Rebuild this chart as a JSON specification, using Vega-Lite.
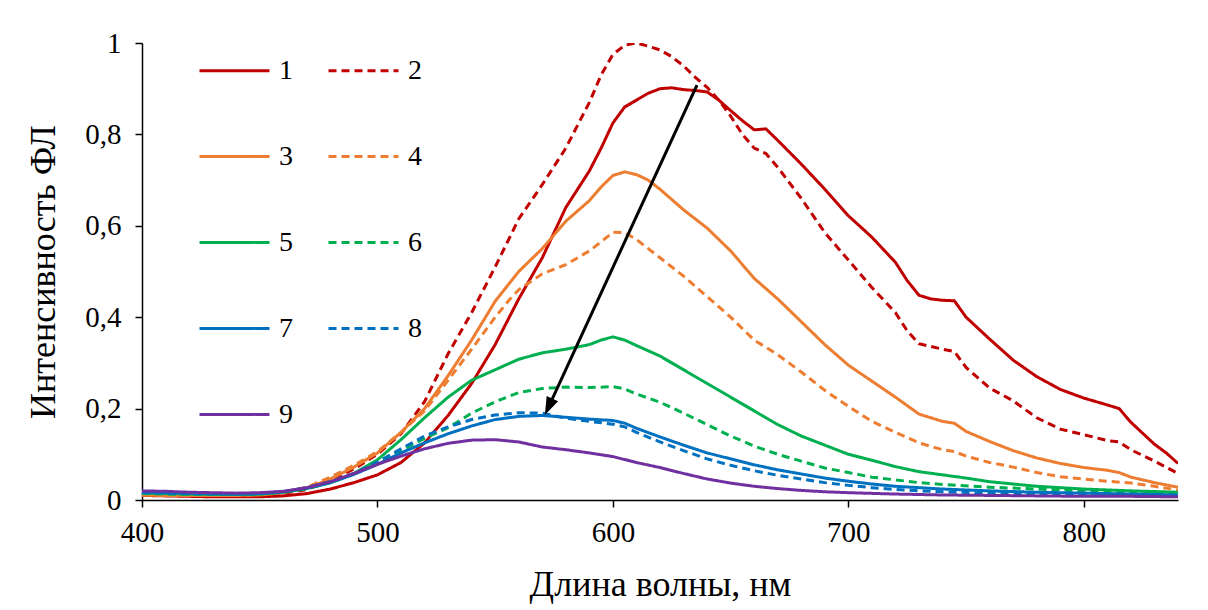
{
  "$schema": "https://vega.github.io/schema/vega-lite/v6.json",
  "width": 1036,
  "height": 457,
  "autosize": {"type": "none"},
  "padding": {"left": 142, "top": 43, "right": 30, "bottom": 110},
  "background": "white",
  "config": {
    "view": {"stroke": null},
    "font": "Times New Roman, Liberation Serif, serif",
    "axis": {
      "grid": false,
      "domainColor": "#000000",
      "domainWidth": 1.5,
      "tickColor": "#000000",
      "tickWidth": 1.5,
      "tickSize": 7,
      "labelFont": "Times New Roman, Liberation Serif, serif",
      "labelFontSize": 29,
      "labelColor": "#000000",
      "titleFont": "Times New Roman, Liberation Serif, serif",
      "titleFontSize": 36,
      "titleFontWeight": "normal",
      "titleColor": "#000000"
    }
  },
  "layer": [
    {
      "data": {"values": [
        {"x":400,"s":"1","y":0.010},{"x":410,"s":"1","y":0.009},{"x":420,"s":"1","y":0.008},{"x":430,"s":"1","y":0.007},{"x":440,"s":"1","y":0.007},{"x":450,"s":"1","y":0.007},{"x":460,"s":"1","y":0.009},{"x":470,"s":"1","y":0.014},{"x":480,"s":"1","y":0.024},{"x":490,"s":"1","y":0.038},{"x":500,"s":"1","y":0.055},{"x":510,"s":"1","y":0.082},{"x":520,"s":"1","y":0.125},{"x":530,"s":"1","y":0.185},{"x":540,"s":"1","y":0.255},{"x":550,"s":"1","y":0.34},{"x":560,"s":"1","y":0.44},{"x":570,"s":"1","y":0.53},{"x":580,"s":"1","y":0.64},{"x":590,"s":"1","y":0.72},{"x":595,"s":"1","y":0.77},{"x":600,"s":"1","y":0.825},{"x":605,"s":"1","y":0.86},{"x":610,"s":"1","y":0.875},{"x":615,"s":"1","y":0.89},{"x":620,"s":"1","y":0.9},{"x":625,"s":"1","y":0.902},{"x":630,"s":"1","y":0.898},{"x":635,"s":"1","y":0.896},{"x":640,"s":"1","y":0.893},{"x":645,"s":"1","y":0.875},{"x":650,"s":"1","y":0.852},{"x":655,"s":"1","y":0.83},{"x":660,"s":"1","y":0.81},{"x":665,"s":"1","y":0.812},{"x":670,"s":"1","y":0.787},{"x":680,"s":"1","y":0.735},{"x":690,"s":"1","y":0.68},{"x":700,"s":"1","y":0.622},{"x":710,"s":"1","y":0.575},{"x":720,"s":"1","y":0.52},{"x":725,"s":"1","y":0.48},{"x":730,"s":"1","y":0.448},{"x":735,"s":"1","y":0.44},{"x":740,"s":"1","y":0.437},{"x":745,"s":"1","y":0.436},{"x":750,"s":"1","y":0.4},{"x":760,"s":"1","y":0.352},{"x":770,"s":"1","y":0.306},{"x":780,"s":"1","y":0.27},{"x":790,"s":"1","y":0.242},{"x":800,"s":"1","y":0.223},{"x":810,"s":"1","y":0.208},{"x":815,"s":"1","y":0.2},{"x":820,"s":"1","y":0.17},{"x":830,"s":"1","y":0.122},{"x":835,"s":"1","y":0.103},{"x":840,"s":"1","y":0.08},

        {"x":400,"s":"2","y":0.012},{"x":410,"s":"2","y":0.011},{"x":420,"s":"2","y":0.010},{"x":430,"s":"2","y":0.010},{"x":440,"s":"2","y":0.010},{"x":450,"s":"2","y":0.011},{"x":460,"s":"2","y":0.015},{"x":470,"s":"2","y":0.023},{"x":480,"s":"2","y":0.042},{"x":490,"s":"2","y":0.068},{"x":500,"s":"2","y":0.1},{"x":510,"s":"2","y":0.145},{"x":520,"s":"2","y":0.215},{"x":530,"s":"2","y":0.32},{"x":540,"s":"2","y":0.41},{"x":550,"s":"2","y":0.51},{"x":560,"s":"2","y":0.615},{"x":570,"s":"2","y":0.69},{"x":580,"s":"2","y":0.77},{"x":590,"s":"2","y":0.87},{"x":595,"s":"2","y":0.93},{"x":600,"s":"2","y":0.975},{"x":605,"s":"2","y":0.995},{"x":610,"s":"2","y":1.0},{"x":615,"s":"2","y":0.993},{"x":620,"s":"2","y":0.985},{"x":625,"s":"2","y":0.97},{"x":630,"s":"2","y":0.95},{"x":635,"s":"2","y":0.925},{"x":640,"s":"2","y":0.903},{"x":645,"s":"2","y":0.875},{"x":650,"s":"2","y":0.84},{"x":655,"s":"2","y":0.8},{"x":660,"s":"2","y":0.77},{"x":665,"s":"2","y":0.758},{"x":670,"s":"2","y":0.728},{"x":680,"s":"2","y":0.66},{"x":690,"s":"2","y":0.585},{"x":700,"s":"2","y":0.525},{"x":710,"s":"2","y":0.465},{"x":720,"s":"2","y":0.41},{"x":725,"s":"2","y":0.37},{"x":730,"s":"2","y":0.342},{"x":740,"s":"2","y":0.33},{"x":745,"s":"2","y":0.325},{"x":750,"s":"2","y":0.29},{"x":760,"s":"2","y":0.245},{"x":770,"s":"2","y":0.217},{"x":780,"s":"2","y":0.18},{"x":790,"s":"2","y":0.155},{"x":800,"s":"2","y":0.143},{"x":810,"s":"2","y":0.13},{"x":815,"s":"2","y":0.127},{"x":820,"s":"2","y":0.11},{"x":830,"s":"2","y":0.085},{"x":840,"s":"2","y":0.058},

        {"x":400,"s":"3","y":0.011},{"x":410,"s":"3","y":0.010},{"x":420,"s":"3","y":0.010},{"x":430,"s":"3","y":0.010},{"x":440,"s":"3","y":0.010},{"x":450,"s":"3","y":0.011},{"x":460,"s":"3","y":0.016},{"x":470,"s":"3","y":0.026},{"x":480,"s":"3","y":0.046},{"x":490,"s":"3","y":0.072},{"x":500,"s":"3","y":0.103},{"x":510,"s":"3","y":0.148},{"x":520,"s":"3","y":0.2},{"x":530,"s":"3","y":0.272},{"x":540,"s":"3","y":0.35},{"x":550,"s":"3","y":0.435},{"x":560,"s":"3","y":0.5},{"x":570,"s":"3","y":0.55},{"x":580,"s":"3","y":0.61},{"x":590,"s":"3","y":0.655},{"x":595,"s":"3","y":0.685},{"x":600,"s":"3","y":0.71},{"x":605,"s":"3","y":0.718},{"x":610,"s":"3","y":0.712},{"x":615,"s":"3","y":0.7},{"x":620,"s":"3","y":0.68},{"x":630,"s":"3","y":0.635},{"x":640,"s":"3","y":0.595},{"x":650,"s":"3","y":0.545},{"x":660,"s":"3","y":0.485},{"x":670,"s":"3","y":0.44},{"x":680,"s":"3","y":0.39},{"x":690,"s":"3","y":0.34},{"x":700,"s":"3","y":0.295},{"x":710,"s":"3","y":0.26},{"x":720,"s":"3","y":0.225},{"x":730,"s":"3","y":0.188},{"x":740,"s":"3","y":0.172},{"x":745,"s":"3","y":0.168},{"x":750,"s":"3","y":0.15},{"x":760,"s":"3","y":0.128},{"x":770,"s":"3","y":0.108},{"x":780,"s":"3","y":0.092},{"x":790,"s":"3","y":0.08},{"x":800,"s":"3","y":0.071},{"x":810,"s":"3","y":0.065},{"x":815,"s":"3","y":0.06},{"x":820,"s":"3","y":0.05},{"x":830,"s":"3","y":0.038},{"x":840,"s":"3","y":0.028},

        {"x":400,"s":"4","y":0.011},{"x":410,"s":"4","y":0.010},{"x":420,"s":"4","y":0.010},{"x":430,"s":"4","y":0.010},{"x":440,"s":"4","y":0.010},{"x":450,"s":"4","y":0.012},{"x":460,"s":"4","y":0.017},{"x":470,"s":"4","y":0.028},{"x":480,"s":"4","y":0.05},{"x":490,"s":"4","y":0.076},{"x":500,"s":"4","y":0.106},{"x":510,"s":"4","y":0.148},{"x":520,"s":"4","y":0.195},{"x":530,"s":"4","y":0.262},{"x":540,"s":"4","y":0.33},{"x":550,"s":"4","y":0.4},{"x":556,"s":"4","y":0.438},{"x":560,"s":"4","y":0.46},{"x":570,"s":"4","y":0.495},{"x":580,"s":"4","y":0.515},{"x":590,"s":"4","y":0.545},{"x":595,"s":"4","y":0.565},{"x":600,"s":"4","y":0.586},{"x":605,"s":"4","y":0.585},{"x":610,"s":"4","y":0.57},{"x":620,"s":"4","y":0.53},{"x":630,"s":"4","y":0.49},{"x":640,"s":"4","y":0.445},{"x":650,"s":"4","y":0.4},{"x":660,"s":"4","y":0.35},{"x":670,"s":"4","y":0.318},{"x":680,"s":"4","y":0.28},{"x":690,"s":"4","y":0.24},{"x":700,"s":"4","y":0.205},{"x":710,"s":"4","y":0.172},{"x":720,"s":"4","y":0.148},{"x":730,"s":"4","y":0.125},{"x":740,"s":"4","y":0.11},{"x":745,"s":"4","y":0.106},{"x":750,"s":"4","y":0.096},{"x":760,"s":"4","y":0.082},{"x":770,"s":"4","y":0.072},{"x":780,"s":"4","y":0.06},{"x":790,"s":"4","y":0.051},{"x":800,"s":"4","y":0.046},{"x":810,"s":"4","y":0.041},{"x":820,"s":"4","y":0.037},{"x":830,"s":"4","y":0.03},{"x":840,"s":"4","y":0.022},

        {"x":400,"s":"5","y":0.015},{"x":410,"s":"5","y":0.014},{"x":420,"s":"5","y":0.013},{"x":430,"s":"5","y":0.012},{"x":440,"s":"5","y":0.012},{"x":450,"s":"5","y":0.013},{"x":460,"s":"5","y":0.017},{"x":470,"s":"5","y":0.025},{"x":480,"s":"5","y":0.038},{"x":490,"s":"5","y":0.058},{"x":500,"s":"5","y":0.088},{"x":510,"s":"5","y":0.132},{"x":520,"s":"5","y":0.18},{"x":530,"s":"5","y":0.225},{"x":540,"s":"5","y":0.262},{"x":550,"s":"5","y":0.285},{"x":560,"s":"5","y":0.308},{"x":570,"s":"5","y":0.322},{"x":580,"s":"5","y":0.33},{"x":590,"s":"5","y":0.34},{"x":595,"s":"5","y":0.35},{"x":600,"s":"5","y":0.357},{"x":605,"s":"5","y":0.35},{"x":610,"s":"5","y":0.338},{"x":620,"s":"5","y":0.315},{"x":630,"s":"5","y":0.285},{"x":640,"s":"5","y":0.255},{"x":650,"s":"5","y":0.225},{"x":660,"s":"5","y":0.195},{"x":670,"s":"5","y":0.165},{"x":680,"s":"5","y":0.14},{"x":690,"s":"5","y":0.12},{"x":700,"s":"5","y":0.1},{"x":710,"s":"5","y":0.087},{"x":720,"s":"5","y":0.073},{"x":730,"s":"5","y":0.062},{"x":740,"s":"5","y":0.055},{"x":750,"s":"5","y":0.048},{"x":760,"s":"5","y":0.04},{"x":770,"s":"5","y":0.035},{"x":780,"s":"5","y":0.03},{"x":790,"s":"5","y":0.027},{"x":800,"s":"5","y":0.024},{"x":820,"s":"5","y":0.02},{"x":840,"s":"5","y":0.017},

        {"x":400,"s":"6","y":0.014},{"x":410,"s":"6","y":0.013},{"x":420,"s":"6","y":0.012},{"x":430,"s":"6","y":0.012},{"x":440,"s":"6","y":0.012},{"x":450,"s":"6","y":0.013},{"x":460,"s":"6","y":0.017},{"x":470,"s":"6","y":0.025},{"x":480,"s":"6","y":0.038},{"x":490,"s":"6","y":0.057},{"x":500,"s":"6","y":0.083},{"x":510,"s":"6","y":0.108},{"x":520,"s":"6","y":0.135},{"x":530,"s":"6","y":0.158},{"x":540,"s":"6","y":0.19},{"x":550,"s":"6","y":0.215},{"x":560,"s":"6","y":0.235},{"x":570,"s":"6","y":0.244},{"x":580,"s":"6","y":0.247},{"x":590,"s":"6","y":0.246},{"x":600,"s":"6","y":0.248},{"x":605,"s":"6","y":0.243},{"x":610,"s":"6","y":0.232},{"x":620,"s":"6","y":0.214},{"x":630,"s":"6","y":0.19},{"x":640,"s":"6","y":0.165},{"x":650,"s":"6","y":0.14},{"x":660,"s":"6","y":0.118},{"x":670,"s":"6","y":0.1},{"x":680,"s":"6","y":0.085},{"x":690,"s":"6","y":0.07},{"x":700,"s":"6","y":0.06},{"x":710,"s":"6","y":0.05},{"x":720,"s":"6","y":0.044},{"x":730,"s":"6","y":0.038},{"x":740,"s":"6","y":0.034},{"x":760,"s":"6","y":0.028},{"x":780,"s":"6","y":0.024},{"x":800,"s":"6","y":0.02},{"x":820,"s":"6","y":0.017},{"x":840,"s":"6","y":0.014},

        {"x":400,"s":"7","y":0.017},{"x":410,"s":"7","y":0.016},{"x":420,"s":"7","y":0.015},{"x":430,"s":"7","y":0.014},{"x":440,"s":"7","y":0.013},{"x":450,"s":"7","y":0.014},{"x":460,"s":"7","y":0.018},{"x":470,"s":"7","y":0.026},{"x":480,"s":"7","y":0.038},{"x":490,"s":"7","y":0.056},{"x":500,"s":"7","y":0.078},{"x":510,"s":"7","y":0.103},{"x":520,"s":"7","y":0.125},{"x":530,"s":"7","y":0.145},{"x":540,"s":"7","y":0.162},{"x":550,"s":"7","y":0.176},{"x":560,"s":"7","y":0.183},{"x":570,"s":"7","y":0.185},{"x":580,"s":"7","y":0.181},{"x":590,"s":"7","y":0.177},{"x":600,"s":"7","y":0.174},{"x":605,"s":"7","y":0.168},{"x":610,"s":"7","y":0.157},{"x":620,"s":"7","y":0.138},{"x":630,"s":"7","y":0.12},{"x":640,"s":"7","y":0.103},{"x":650,"s":"7","y":0.09},{"x":660,"s":"7","y":0.077},{"x":670,"s":"7","y":0.066},{"x":680,"s":"7","y":0.057},{"x":690,"s":"7","y":0.048},{"x":700,"s":"7","y":0.041},{"x":710,"s":"7","y":0.035},{"x":720,"s":"7","y":0.03},{"x":730,"s":"7","y":0.027},{"x":740,"s":"7","y":0.024},{"x":760,"s":"7","y":0.02},{"x":780,"s":"7","y":0.017},{"x":800,"s":"7","y":0.015},{"x":820,"s":"7","y":0.013},{"x":840,"s":"7","y":0.011},

        {"x":400,"s":"8","y":0.016},{"x":410,"s":"8","y":0.015},{"x":420,"s":"8","y":0.014},{"x":430,"s":"8","y":0.013},{"x":440,"s":"8","y":0.013},{"x":450,"s":"8","y":0.014},{"x":460,"s":"8","y":0.018},{"x":470,"s":"8","y":0.027},{"x":480,"s":"8","y":0.04},{"x":490,"s":"8","y":0.058},{"x":500,"s":"8","y":0.083},{"x":510,"s":"8","y":0.112},{"x":520,"s":"8","y":0.14},{"x":530,"s":"8","y":0.16},{"x":540,"s":"8","y":0.176},{"x":550,"s":"8","y":0.186},{"x":560,"s":"8","y":0.191},{"x":570,"s":"8","y":0.19},{"x":580,"s":"8","y":0.179},{"x":590,"s":"8","y":0.172},{"x":600,"s":"8","y":0.166},{"x":605,"s":"8","y":0.16},{"x":610,"s":"8","y":0.148},{"x":620,"s":"8","y":0.127},{"x":630,"s":"8","y":0.108},{"x":640,"s":"8","y":0.09},{"x":650,"s":"8","y":0.076},{"x":660,"s":"8","y":0.064},{"x":670,"s":"8","y":0.054},{"x":680,"s":"8","y":0.046},{"x":690,"s":"8","y":0.038},{"x":700,"s":"8","y":0.032},{"x":710,"s":"8","y":0.027},{"x":720,"s":"8","y":0.023},{"x":730,"s":"8","y":0.02},{"x":740,"s":"8","y":0.018},{"x":760,"s":"8","y":0.015},{"x":780,"s":"8","y":0.013},{"x":800,"s":"8","y":0.012},{"x":820,"s":"8","y":0.011},{"x":840,"s":"8","y":0.01},

        {"x":400,"s":"9","y":0.02},{"x":410,"s":"9","y":0.019},{"x":420,"s":"9","y":0.017},{"x":430,"s":"9","y":0.016},{"x":440,"s":"9","y":0.015},{"x":450,"s":"9","y":0.016},{"x":460,"s":"9","y":0.019},{"x":470,"s":"9","y":0.027},{"x":480,"s":"9","y":0.04},{"x":490,"s":"9","y":0.058},{"x":500,"s":"9","y":0.078},{"x":510,"s":"9","y":0.096},{"x":520,"s":"9","y":0.112},{"x":530,"s":"9","y":0.124},{"x":540,"s":"9","y":0.131},{"x":550,"s":"9","y":0.132},{"x":560,"s":"9","y":0.127},{"x":570,"s":"9","y":0.116},{"x":580,"s":"9","y":0.11},{"x":590,"s":"9","y":0.103},{"x":600,"s":"9","y":0.095},{"x":610,"s":"9","y":0.082},{"x":620,"s":"9","y":0.071},{"x":630,"s":"9","y":0.058},{"x":640,"s":"9","y":0.046},{"x":650,"s":"9","y":0.037},{"x":660,"s":"9","y":0.03},{"x":670,"s":"9","y":0.025},{"x":680,"s":"9","y":0.021},{"x":690,"s":"9","y":0.018},{"x":700,"s":"9","y":0.016},{"x":720,"s":"9","y":0.013},{"x":740,"s":"9","y":0.011},{"x":760,"s":"9","y":0.01},{"x":780,"s":"9","y":0.009},{"x":800,"s":"9","y":0.008},{"x":820,"s":"9","y":0.008},{"x":840,"s":"9","y":0.007}
      ]},
      "mark": {"type": "line", "strokeWidth": 3, "clip": true},
      "encoding": {
        "x": {
          "field": "x", "type": "quantitative",
          "scale": {"domain": [400, 840], "nice": false, "zero": false},
          "axis": {"values": [400, 500, 600, 700, 800], "title": "Длина волны, нм", "labelFont": "Times New Roman, Liberation Serif, serif", "labelFontSize": 29, "labelFlush": false, "labelPadding": 11, "titlePadding": 20}
        },
        "y": {
          "field": "y", "type": "quantitative",
          "scale": {"domain": [0, 1], "nice": false},
          "axis": {
            "values": [0, 0.2, 0.4, 0.6, 0.8, 1],
            "title": "Интенсивность ФЛ",
            "labelFont": "Times New Roman, Liberation Serif, serif",
            "labelFontSize": 29,
            "labelFlush": false,
            "labelExpr": "datum.value == 0 || datum.value == 1 ? format(datum.value, 'd') : replace(format(datum.value, '.1f'), '.', ',')",
            "labelPadding": 14,
            "titlePadding": 22
          }
        },
        "color": {
          "field": "s", "type": "nominal",
          "scale": {"domain": ["1","2","3","4","5","6","7","8","9"], "range": ["#C00000","#C00000","#ED7D31","#ED7D31","#00B050","#00B050","#0070C0","#0070C0","#7030A0"]},
          "legend": {
            "title": null,
            "orient": "none",
            "legendX": 56,
            "legendY": -9,
            "columns": 2,
            "direction": "horizontal",
            "symbolType": "stroke",
            "symbolSize": 4900,
            "symbolStrokeWidth": 3,
            "labelFont": "Times New Roman, Liberation Serif, serif",
            "labelFontSize": 28,
            "labelColor": "#000000",
            "labelOffset": 8,
            "rowPadding": 35,
            "columnPadding": 29,
            "padding": 0
          }
        },
        "strokeDash": {
          "field": "s", "type": "nominal",
          "scale": {"domain": ["1","2","3","4","5","6","7","8","9"], "range": [[1,0],[8,5],[1,0],[8,5],[1,0],[8,5],[1,0],[8,5],[1,0]]},
          "legend": null
        }
      }
    },
    {
      "data": {"values": [{"x": 635.7, "y": 0.908, "x2": 572.7, "y2": 0.204}]},
      "mark": {"type": "rule", "color": "#000000", "strokeWidth": 3},
      "encoding": {
        "x": {"field": "x", "type": "quantitative"},
        "y": {"field": "y", "type": "quantitative"},
        "x2": {"field": "x2"},
        "y2": {"field": "y2"}
      }
    },
    {
      "data": {"values": [{"x": 572.7, "y": 0.204}]},
      "mark": {"type": "point", "shape": "M0,-1L-0.7,1L0.7,1Z", "filled": true, "color": "#000000", "opacity": 1, "size": 324, "angle": 204.7},
      "encoding": {
        "x": {"field": "x", "type": "quantitative"},
        "y": {"field": "y", "type": "quantitative"}
      }
    }
  ]
}
